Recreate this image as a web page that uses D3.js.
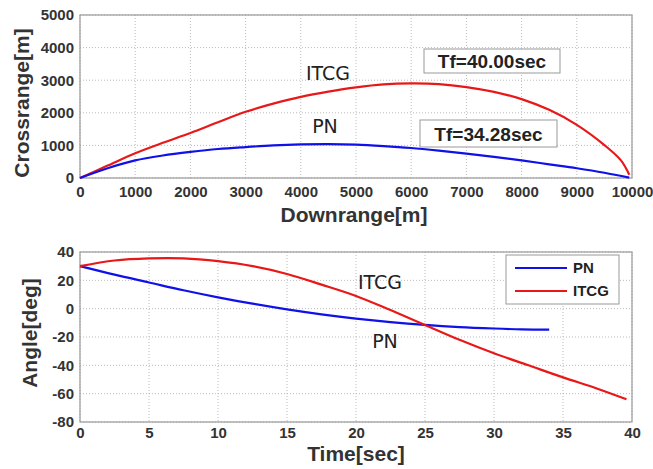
<!DOCTYPE html>
<html>
<head>
<meta charset="utf-8">
<script src="https://d3js.org/d3.v7.min.js"></script>
<style>
  body { margin: 0; background: #fff; }
  text { font-family: "Liberation Sans", Arial, sans-serif; }
</style>
</head>
<body>
<svg id="chart" width="653" height="469"></svg>
<script>
// top panel: crossrange vs downrange
var downrange   = [0, 500, 1000, 1500, 2000, 2500, 3000, 3500, 4000, 4500, 5000, 5500, 6000, 6500, 7000, 7500, 8000, 8500, 9000, 9500, 9950];
var crossPN     = [0, 300, 540, 690, 800, 890, 950, 1000, 1030, 1040, 1025, 980, 920, 840, 750, 650, 540, 420, 300, 160, 10];
var downITCG    = [0, 500, 1000, 1500, 2000, 2500, 3000, 3500, 4000, 4500, 5000, 5500, 6000, 6500, 7000, 7500, 8000, 8500, 9000, 9500, 9800, 9950];
var crossITCG   = [0, 380, 760, 1080, 1380, 1710, 2030, 2280, 2490, 2650, 2780, 2870, 2900, 2880, 2790, 2640, 2420, 2090, 1630, 1010, 540, 100];

// bottom panel: angle vs time
var timePN      = [0, 2.5, 5, 7.5, 10, 12.5, 15, 17.5, 20, 22.5, 25, 27.5, 30, 32, 34];
var anglePN     = [30, 24, 18.5, 13, 8, 3.5, -0.5, -4, -7, -9.5, -11.5, -13, -14, -14.6, -14.8];
var timeITCG    = [0, 2.5, 5, 7.5, 10, 12.5, 15, 17.5, 20, 22.5, 25, 27.5, 30, 32.5, 35, 37.5, 39.6];
var angleITCG   = [30, 34, 35.5, 35.5, 33.5, 30, 24.5, 17, 9, -1, -11.5, -22, -31.5, -40, -48.5, -56.5, -64];

var xTicksTop = [0, 1000, 2000, 3000, 4000, 5000, 6000, 7000, 8000, 9000, 10000];
var yTicksTop = [0, 1000, 2000, 3000, 4000, 5000];
var xTicksBot = [0, 5, 10, 15, 20, 25, 30, 35, 40];
var yTicksBot = [-80, -60, -40, -20, 0, 20, 40];

var svg = d3.select("#chart");
var BLUE = "#1010e8", RED = "#e81818";

function panel(opt) {
  var x = d3.scaleLinear().domain(opt.xd).range([opt.l, opt.r]);
  var y = d3.scaleLinear().domain(opt.yd).range([opt.b, opt.t]);
  var g = svg.append("g");

  g.append("rect").attr("x", opt.l).attr("y", opt.t)
    .attr("width", opt.r - opt.l).attr("height", opt.b - opt.t)
    .attr("fill", "#fff");

  // grid
  g.selectAll(".gx").data(opt.xt).enter().append("line")
    .attr("x1", d => x(d)).attr("x2", d => x(d))
    .attr("y1", opt.t).attr("y2", opt.b)
    .attr("stroke", "#bbb").attr("stroke-width", 1).attr("stroke-dasharray", "1,2");
  g.selectAll(".gy").data(opt.yt).enter().append("line")
    .attr("y1", d => y(d)).attr("y2", d => y(d))
    .attr("x1", opt.l).attr("x2", opt.r)
    .attr("stroke", "#bbb").attr("stroke-width", 1).attr("stroke-dasharray", "1,2");

  g.append("rect").attr("x", opt.l).attr("y", opt.t)
    .attr("width", opt.r - opt.l).attr("height", opt.b - opt.t)
    .attr("fill", "none").attr("stroke", "#999").attr("stroke-width", 1.2);

  // axes
  var fmt = d => String(d);
  var ax = g.append("g").attr("transform", "translate(0," + opt.b + ")")
    .call(d3.axisBottom(x).tickValues(opt.xt).tickSize(0).tickPadding(opt.xpad).tickFormat(fmt));
  var ay = g.append("g").attr("transform", "translate(" + opt.l + ",0)")
    .call(d3.axisLeft(y).tickValues(opt.yt).tickSize(0).tickPadding(6).tickFormat(fmt));
  [ax, ay].forEach(function(a) {
    a.select(".domain").remove();
    a.selectAll("text").attr("font-size", 15).attr("font-weight", "bold")
      .attr("fill", "#333").style("font-family", "'Liberation Sans', Arial, sans-serif");
  });

  g.append("text").attr("x", opt.xlx).attr("y", opt.b + opt.xly)
    .attr("text-anchor", "middle").attr("font-size", 21).attr("font-weight", "bold")
    .attr("fill", "#333").text(opt.xlabel);
  g.append("text")
    .attr("transform", "translate(" + opt.ylx + "," + opt.yly + ") rotate(-90)")
    .attr("text-anchor", "middle").attr("font-size", 21).attr("font-weight", "bold")
    .attr("fill", "#333").text(opt.ylabel);

  var line = d3.line().curve(d3.curveCatmullRom).x(d => x(d[0])).y(d => y(d[1]));
  opt.series.forEach(function(s) {
    g.append("path").datum(d3.zip(s.x, s.y)).attr("d", line)
      .attr("fill", "none").attr("stroke", s.color).attr("stroke-width", 2.2);
  });
  return { g: g, x: x, y: y };
}

var topPanel = panel({
  l: 80, r: 632, t: 15, b: 178, xpad: 8,
  xd: [0, 10000], yd: [0, 5000], xt: xTicksTop, yt: yTicksTop,
  xlabel: "Downrange[m]", xlx: 354, xly: 44,
  ylabel: "Crossrange[m]", ylx: 29, yly: 103,
  series: [
    { x: downITCG, y: crossITCG, color: RED },
    { x: downrange, y: crossPN, color: BLUE }
  ]
});

var botPanel = panel({
  l: 80, r: 632, t: 252, b: 422, xpad: 5,
  xd: [0, 40], yd: [-80, 40], xt: xTicksBot, yt: yTicksBot,
  xlabel: "Time[sec]", xlx: 356, xly: 39,
  ylabel: "Angle[deg]", ylx: 37, yly: 333,
  series: [
    { x: timePN, y: anglePN, color: BLUE },
    { x: timeITCG, y: angleITCG, color: RED }
  ]
});

// curve name labels
function label(g, x, y, t) {
  g.append("text").attr("x", x).attr("y", y).attr("text-anchor", "middle")
    .attr("font-size", 19).attr("fill", "#222")
    .style("font-family", "'DejaVu Sans', 'Liberation Sans', sans-serif").text(t);
}
label(topPanel.g, 328, 80, "ITCG");
label(topPanel.g, 325, 133, "PN");

function boxText(g, x, y, w, h, t) {
  g.append("rect").attr("x", x).attr("y", y).attr("width", w).attr("height", h)
    .attr("fill", "#fff").attr("stroke", "#999").attr("stroke-width", 1);
  g.append("text").attr("x", x + w / 2).attr("y", y + h / 2 + 7).attr("text-anchor", "middle")
    .attr("font-size", 19).attr("font-weight", "bold").attr("fill", "#222").text(t);
}
boxText(topPanel.g, 424, 49, 136, 24, "Tf=40.00sec");
boxText(topPanel.g, 420, 120, 137, 27, "Tf=34.28sec");

label(botPanel.g, 380, 289, "ITCG");
label(botPanel.g, 385, 348, "PN");

// legend
var lg = botPanel.g.append("g");
lg.append("rect").attr("x", 506).attr("y", 255).attr("width", 113).attr("height", 49)
  .attr("fill", "#fff").attr("stroke", "#999").attr("stroke-width", 1);
[{ n: "PN", c: BLUE }, { n: "ITCG", c: RED }].forEach(function(d, i) {
  var yy = 268 + i * 23;
  lg.append("line").attr("x1", 515).attr("x2", 567).attr("y1", yy).attr("y2", yy)
    .attr("stroke", d.c).attr("stroke-width", 2.2);
  lg.append("text").attr("x", 573).attr("y", yy + 5).attr("font-size", 15)
    .attr("font-weight", "bold").attr("fill", "#222").text(d.n);
});
</script>
</body>
</html>
